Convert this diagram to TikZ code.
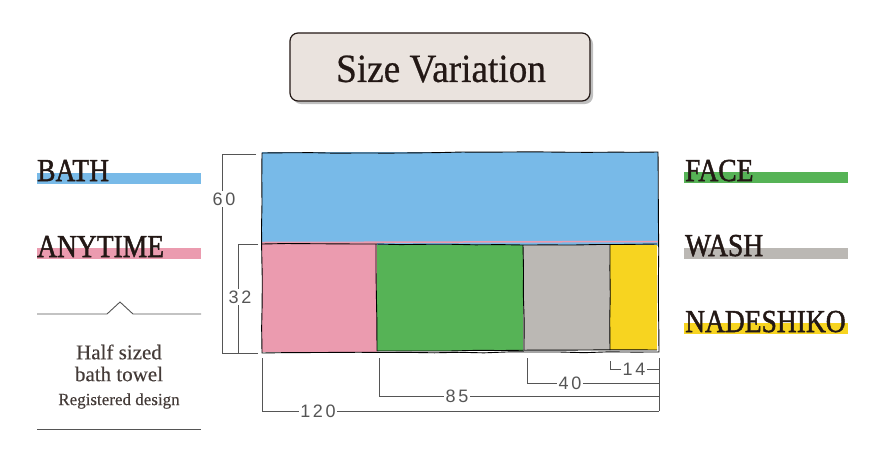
\documentclass[tikz,border=0pt]{standalone}
\usepackage{fontspec}
\setmainfont{Liberation Serif}
\newfontfamily\numfont[LetterSpace=15]{Liberation Sans}
\newfontfamily\legfont[FakeBold=1.6]{Liberation Serif}
\newfontfamily\titlefont[FakeBold=0.6]{Liberation Serif}
\newfontfamily\notefont[FakeBold=0.3]{Liberation Serif}
\usetikzlibrary{decorations.pathmorphing}
\definecolor{ink}{HTML}{231815}
\definecolor{bathc}{HTML}{78BAE8}
\definecolor{anyc}{HTML}{EB9BAF}
\definecolor{facec}{HTML}{56B356}
\definecolor{washc}{HTML}{BBB8B4}
\definecolor{nadec}{HTML}{F7D420}
\definecolor{titlebg}{HTML}{EAE3DE}
\definecolor{dimc}{HTML}{555555}
\tikzset{
  legtext/.style={anchor=base west, inner sep=0pt, text=ink, font=\legfont\fontsize{32}{32}\selectfont, xscale=0.86},
  dimline/.style={draw=dimc, line width=0.8pt},
  dimlabel/.style={fill=white, inner sep=1.5pt, text=dimc, font=\numfont\fontsize{18}{18}\selectfont},
  sketch/.style={draw=black, line width=0.9pt, decorate, decoration={random steps, segment length=25pt, amplitude=0.5pt}},
  smalltext/.style={text=ink!85, inner sep=0pt, font=\notefont\fontsize{21}{21}\selectfont}
}
\begin{document}
\begin{tikzpicture}[x=1pt,y=-1pt]
\useasboundingbox (0,0) rectangle (886,451);
% title
\fill[black!25, rounded corners=8pt] (293,36) rectangle (593,104);
\draw[titlebg, fill=titlebg, rounded corners=8pt] (290,33) rectangle (590,101);
\draw[ink, line width=1.2pt, rounded corners=8pt] (290,33) rectangle (590,101);
\node[text=ink, inner sep=0pt, font=\titlefont\fontsize{40}{40}\selectfont, xscale=0.93] (title) at (441,69) {Size Variation};

% coloured towels
\fill[bathc] (262,152) rectangle (658,246);
\fill[anyc] (262,242) rectangle (377,352);
\fill[facec] (377,245) rectangle (523,351);
\fill[washc] (523,245) rectangle (610,350);
\fill[nadec] (610,245) rectangle (657,350);
\draw[anyc, line width=1.5pt] (262,242.5) -- (658,241.5);
% sketch outlines
\draw[sketch] (262,153) -- (658,152) -- (659,352) -- (262,353) -- cycle;
\draw[sketch] (262,244) -- (376,244) -- (523,245) -- (657,244);
\draw[sketch] (376,244) -- (377,351);
\draw[sketch] (523,245) -- (524,350);
\draw[sketch] (610,245) -- (610,350);
\draw[sketch] (377,351) -- (657,350);

% vertical dimensions
\coordinate (t60) at (222,154);
\coordinate (b60) at (222,353);
\draw[dimline] (256,154) -- (t60) -- (b60) -- (258,353);
\node[dimlabel] (l60) at (224,199) {60};
\coordinate (t32) at (238,244);
\coordinate (b32) at (238,353);
\draw[dimline] (258,244) -- (t32) -- (b32);
\node[dimlabel] (l32) at (240,297) {32};

% horizontal dimensions
\coordinate (r1) at (659,358);
\coordinate (r2) at (659,411);
\draw[dimline] (r1) -- (r2);
\draw[dimline] (262,358) -- (262,411) -- (r2);
\node[dimlabel] (l120) at (318,411) {120};
\draw[dimline] (379,358) -- (379,396) -- (659,396);
\node[dimlabel] (l85) at (457,396) {85};
\draw[dimline] (527,358) -- (527,383) -- (659,383);
\node[dimlabel] (l40) at (570,383) {40};
\draw[dimline] (610,361) -- (610,369) -- (659,369);
\node[dimlabel] (l14) at (634,369) {14};

% left legend
\fill[bathc] (37,173) rectangle (201,184);
\node[legtext] (bath) at (37,181) {BATH};
\fill[anyc] (37,248) rectangle (201,259);
\node[legtext] (anytime) at (37,257) {ANYTIME};
\draw[dimc, line width=0.9pt] (37,314) -- (107,314) -- (120,302) -- (133,314) -- (201,314);
\node[smalltext] (half) at (119,352) {Half sized};
\node[smalltext] (bt) at (119,374) {bath towel};
\node[smalltext, font=\notefont\fontsize{17}{17}\selectfont] (reg) at (119,401) {Registered design};
\draw[dimc, line width=0.9pt] (37,429) -- (201,429);

% right legend
\fill[facec] (684,172) rectangle (848,183);
\node[legtext] (face) at (685,181) {FACE};
\fill[washc] (684,248) rectangle (848,259);
\node[legtext] (wash) at (685,256) {WASH};
\fill[nadec] (684,323) rectangle (848,334);
\node[legtext] (nade) at (685,332) {NADESHIKO};
\end{tikzpicture}
\end{document}
